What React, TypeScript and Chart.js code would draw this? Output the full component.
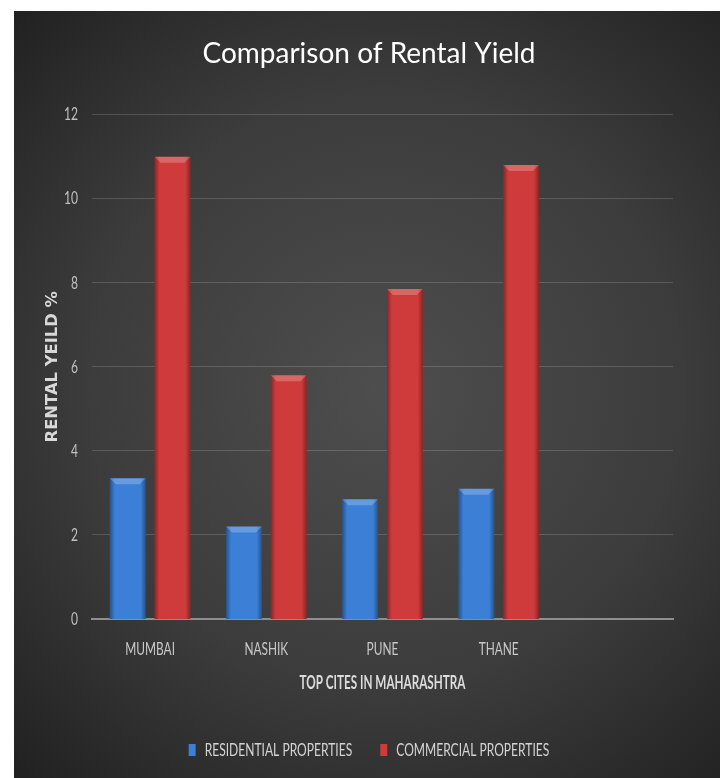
import React, { useEffect, useRef } from 'react';
import { Chart, registerables } from 'chart.js';

Chart.register(...registerables);

const categories = ['MUMBAI', 'NASHIK', 'PUNE', 'THANE', ''];
const residential = [3.35, 2.2, 2.85, 3.1];
const commercial = [11.0, 5.8, 7.85, 10.8];
const seriesNames = ['RESIDENTIAL PROPERTIES', 'COMMERCIAL PROPERTIES'];
const yRange = [0, 12];
const yStep = 2;
const chartTitle = 'Comparison of Rental Yield';
const xTitle = 'TOP CITES IN MAHARASHTRA';
const yTitle = 'RENTAL YEILD %';

const BLUE = '#3b7fd6';
const RED = '#cf3b3b';

function patchContext(ctx: CanvasRenderingContext2D) {
  const fill = ctx.fillText;
  const measure = ctx.measureText;
  const factor = () => {
    const m = /sqz(\d+)/.exec(ctx.font);
    return m ? Number(m[1]) / 100 : 1;
  };
  (ctx as any).fillText = function (text: string, x: number, y: number, maxWidth?: number) {
    const f = factor();
    if (f === 1) {
      return maxWidth === undefined ? fill.call(ctx, text, x, y) : fill.call(ctx, text, x, y, maxWidth);
    }
    ctx.save();
    ctx.translate(x, y);
    ctx.scale(f, 1);
    if (maxWidth === undefined) fill.call(ctx, text, 0, 0);
    else fill.call(ctx, text, 0, 0, maxWidth / f);
    ctx.restore();
  };
  (ctx as any).measureText = function (text: string) {
    const m = measure.call(ctx, text);
    const f = factor();
    if (f === 1) return m;
    return {
      width: m.width * f,
      actualBoundingBoxAscent: m.actualBoundingBoxAscent,
      actualBoundingBoxDescent: m.actualBoundingBoxDescent,
      actualBoundingBoxLeft: m.actualBoundingBoxLeft * f,
      actualBoundingBoxRight: m.actualBoundingBoxRight * f,
      fontBoundingBoxAscent: (m as any).fontBoundingBoxAscent,
      fontBoundingBoxDescent: (m as any).fontBoundingBoxDescent,
    };
  };
}

const backgroundPlugin = {
  id: 'bgPanel',
  beforeDraw(chart: any) {
    const { ctx, width, height } = chart;
    ctx.save();
    ctx.fillStyle = '#ffffff';
    ctx.fillRect(0, 0, width, height);
    const g = ctx.createRadialGradient(385, 390, 0, 385, 390, 540);
    g.addColorStop(0, '#4e4e4e');
    g.addColorStop(0.55, '#3c3c3c');
    g.addColorStop(1, '#202020');
    ctx.fillStyle = g;
    ctx.fillRect(14, 11, width - 14, height - 11);
    ctx.restore();
  },
};

const bevelPlugin = {
  id: 'barBevel',
  afterDatasetsDraw(chart: any) {
    const { ctx } = chart;
    ctx.save();
    chart.data.datasets.forEach((_: any, i: number) => {
      const meta = chart.getDatasetMeta(i);
      meta.data.forEach((el: any) => {
        const { x, y, base, width } = el.getProps(['x', 'y', 'base', 'width'], true);
        if (!isFinite(y)) return;
        const left = x - width / 2;
        const right = x + width / 2;
        const g = ctx.createLinearGradient(left, 0, right, 0);
        g.addColorStop(0, 'rgba(0,0,0,0.35)');
        g.addColorStop(0.14, 'rgba(0,0,0,0)');
        g.addColorStop(0.86, 'rgba(0,0,0,0)');
        g.addColorStop(1, 'rgba(0,0,0,0.35)');
        ctx.fillStyle = g;
        ctx.fillRect(left, y, width, base - y);
        const b = 6;
        ctx.fillStyle = 'rgba(255,255,255,0.22)';
        ctx.beginPath();
        ctx.moveTo(left, y);
        ctx.lineTo(right, y);
        ctx.lineTo(right - b, y + b);
        ctx.lineTo(left + b, y + b);
        ctx.closePath();
        ctx.fill();
      });
    });
    ctx.restore();
  },
};

export default function App() {
  const ref = useRef<HTMLCanvasElement>(null);
  useEffect(() => {
    const canvas = ref.current!;
    const ctx = canvas.getContext('2d')!;
    patchContext(ctx);
    const chart = new Chart(canvas, {
      type: 'bar',
      data: {
        labels: categories,
        datasets: [
          {
            label: seriesNames[0],
            data: residential,
            backgroundColor: BLUE,
            categoryPercentage: 0.77,
            barPercentage: 0.8,
          },
          {
            label: seriesNames[1],
            data: commercial,
            backgroundColor: RED,
            categoryPercentage: 0.77,
            barPercentage: 0.8,
          },
        ],
      },
      options: {
        responsive: false,
        devicePixelRatio: 1,
        animation: false,
        layout: { padding: { left: 18, right: 0, top: 0, bottom: 9 } },
        plugins: {
          title: {
            display: true,
            text: chartTitle,
            color: '#ffffff',
            font: { family: '"sqz100", Lato, sans-serif', size: 28, weight: 'normal' },
            padding: { top: 37, bottom: 44 },
          },
          legend: {
            position: 'bottom',
            labels: {
              color: '#d4d4d4',
              font: { family: '"sqz67", Lato, sans-serif', size: 18 },
              boxWidth: 7,
              boxHeight: 12,
              padding: 28,
            },
          },
          tooltip: { enabled: false },
        },
        scales: {
          x: {
            afterFit: (s: any) => { s.height = 94; },
            grid: { display: false, drawTicks: false },
            border: { display: true, color: '#8f8f8f', width: 2 },
            ticks: {
              color: '#c8c8c8',
              padding: 19,
              font: { family: '"sqz66", Lato, sans-serif', size: 18 },
            },
            title: {
              display: true,
              text: xTitle,
              color: '#dcdcdc',
              font: { family: '"sqz65", Lato, sans-serif', size: 18, weight: 'bold' },
              padding: { top: 0, bottom: 19 },
            },
          },
          y2: {
            position: 'right',
            afterFit: (s: any) => { s.width = 47; },
            grid: { display: false, drawTicks: false },
            border: { display: false },
            ticks: { display: false },
          },
          y: {
            min: yRange[0],
            max: yRange[1],
            afterFit: (s: any) => { s.width = 74; },
            grid: { color: 'rgba(255,255,255,0.16)', lineWidth: 1, drawTicks: false },
            border: { display: false },
            ticks: {
              stepSize: yStep,
              color: '#c0c0c0',
              padding: 14,
              font: { family: '"sqz67", Lato, sans-serif', size: 18 },
            },
            title: {
              display: true,
              text: yTitle,
              color: '#d8d8d8',
              font: { family: '"sqz109", "DejaVu Sans", sans-serif', size: 15, weight: 'bold' },
              padding: { top: 26, bottom: 0 },
            },
          },
        },
      },
      plugins: [backgroundPlugin, bevelPlugin],
    } as any);
    return () => chart.destroy();
  }, []);
  return (
    <canvas
      ref={ref}
      width={720}
      height={778}
      style={{ position: 'absolute', left: 0, top: 0, width: 720, height: 778 }}
    />
  );
}
